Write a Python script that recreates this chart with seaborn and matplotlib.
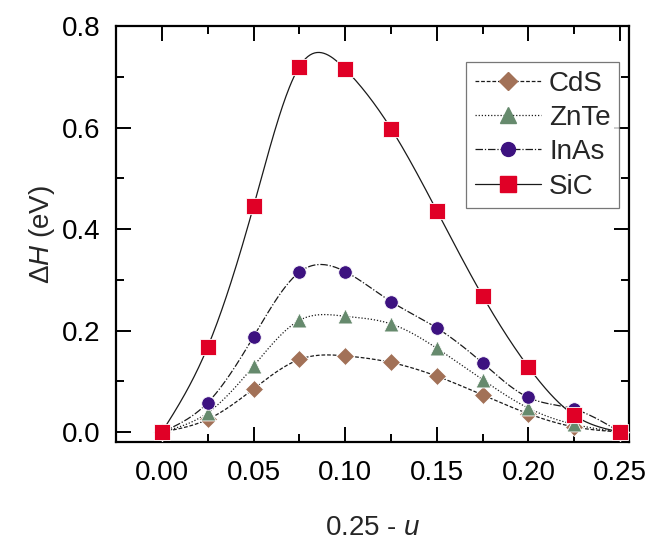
import numpy as np
import pandas as pd
import seaborn as sns
import matplotlib
matplotlib.use("Agg")
import matplotlib.pyplot as plt
from matplotlib.lines import Line2D

x_vals = [0.0, 0.025, 0.05, 0.075, 0.1, 0.125, 0.15, 0.175, 0.2, 0.225, 0.25]
cds = [0.0, 0.025, 0.085, 0.143, 0.150, 0.137, 0.110, 0.073, 0.036, 0.010, 0.0]
znte = [0.0, 0.038, 0.130, 0.220, 0.228, 0.213, 0.165, 0.103, 0.047, 0.015, 0.0]
inas = [0.0, 0.058, 0.188, 0.315, 0.316, 0.257, 0.205, 0.136, 0.068, 0.045, 0.0]
sic = [0.0, 0.168, 0.445, 0.720, 0.715, 0.598, 0.436, 0.268, 0.128, 0.033, 0.0]
names = ["CdS", "ZnTe", "InAs", "SiC"]
series = [cds, znte, inas, sic]
colors = ["#A27157", "#668A6D", "#3D1280", "#E00026"]
markers = ["D", "^", "o", "s"]
msizes = [85, 115, 95, 121]
leg_ms = [9, 11, 10, 11]
lstyles = [(0, (3, 1.5)), (0, (1, 1.5)), (0, (6, 1.5, 1, 1.5)), "-"]


def natural_spline(x, y, xs):
    x = np.asarray(x, float); y = np.asarray(y, float)
    n = len(x)
    h = np.diff(x)
    A = np.zeros((n, n)); r = np.zeros(n)
    A[0, 0] = 1; A[-1, -1] = 1
    for i in range(1, n - 1):
        A[i, i - 1] = h[i - 1]
        A[i, i] = 2 * (h[i - 1] + h[i])
        A[i, i + 1] = h[i]
        r[i] = 3 * ((y[i + 1] - y[i]) / h[i] - (y[i] - y[i - 1]) / h[i - 1])
    c = np.linalg.solve(A, r)
    b = np.zeros(n - 1); d = np.zeros(n - 1)
    for i in range(n - 1):
        b[i] = (y[i + 1] - y[i]) / h[i] - h[i] * (2 * c[i] + c[i + 1]) / 3
        d[i] = (c[i + 1] - c[i]) / (3 * h[i])
    idx = np.clip(np.searchsorted(x, xs) - 1, 0, n - 2)
    dx = xs - x[idx]
    return y[idx] + b[idx] * dx + c[idx] * dx ** 2 + d[idx] * dx ** 3


sns.set_theme(style="white")
plt.rcParams["font.family"] = ["Liberation Sans", "DejaVu Sans"]
plt.rcParams["mathtext.fontset"] = "custom"
plt.rcParams["mathtext.it"] = "Liberation Sans:italic"
plt.rcParams["mathtext.rm"] = "Liberation Sans"

fig = plt.figure(figsize=(6.48, 5.42), dpi=100)
ax = fig.add_axes([116 / 648, 1 - 442 / 542, 513 / 648, 416 / 542])

xs = np.linspace(0, 0.25, 400)
for name, ys, col, mk, ms, ls in zip(names, series, colors, markers, msizes, lstyles):
    curve = pd.DataFrame({"x": xs, "y": natural_spline(x_vals, ys, xs)})
    sns.lineplot(data=curve, x="x", y="y", ax=ax, color="#1a1a1a", lw=0.9,
                 linestyle=ls, zorder=2, estimator=None, sort=False)
for name, ys, col, mk, ms, ls in zip(names, series, colors, markers, msizes, lstyles):
    pts = pd.DataFrame({"x": x_vals, "y": ys})
    sns.scatterplot(data=pts, x="x", y="y", ax=ax, color=col, marker=mk, s=ms,
                    edgecolor="white", linewidth=0.6, zorder=3)

ax.set_xlim(-0.0251, 0.2549)
ax.set_ylim(-0.0197, 0.8)
ax.set_xticks([0.0, 0.05, 0.1, 0.15, 0.2, 0.25])
ax.set_xticklabels(["0.00", "0.05", "0.10", "0.15", "0.20", "0.25"])
ax.set_xticks(np.arange(0.025, 0.25, 0.05), minor=True)
ax.set_yticks([0.0, 0.2, 0.4, 0.6, 0.8])
ax.set_yticklabels(["0.0", "0.2", "0.4", "0.6", "0.8"])
ax.set_yticks([0.1, 0.3, 0.5, 0.7], minor=True)
ax.tick_params(which="both", direction="in", top=True, right=True, bottom=True, left=True,
               labelsize=20, colors="black", width=1.4)
ax.tick_params(which="major", length=11)
ax.tick_params(axis="x", which="major", pad=13)
ax.tick_params(axis="y", which="major", pad=11)
ax.tick_params(which="minor", length=6)
for sp in ax.spines.values():
    sp.set_color("black"); sp.set_linewidth(1.6)
ax.set_xlabel("0.25 - $\\mathit{u}$", fontsize=20, labelpad=21)
ax.set_ylabel("$\\mathit{ΔH}$ (eV)", fontsize=20, labelpad=4)

handles = [Line2D([0], [0], color="#1a1a1a", lw=0.9, linestyle=ls, marker=mk,
                  markerfacecolor=col, markeredgecolor=col, markersize=lm)
           for col, mk, ls, lm in zip(colors, markers, lstyles, leg_ms)]
leg = ax.legend(handles, names, loc="upper right", bbox_to_anchor=(0.9805, 0.913),
                fontsize=20, frameon=True, fancybox=False, edgecolor="#555555",
                handlelength=2.4, handletextpad=0.28, borderpad=0.3, labelspacing=0.3,
                borderaxespad=0)
leg.get_frame().set_linewidth(0.9)

fig.savefig("out.png", dpi=100)
